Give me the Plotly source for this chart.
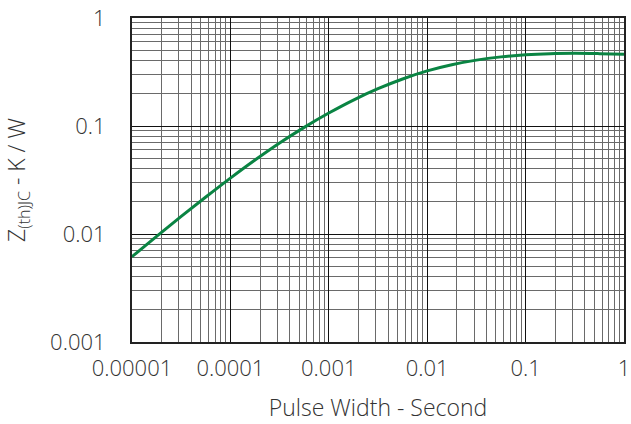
import plotly.graph_objects as go

pulse_width = [1e-5, 1.778e-5, 3.162e-5, 5.623e-5, 1e-4, 1.778e-4, 3.162e-4, 5.623e-4,
               1e-3, 1.778e-3, 3.162e-3, 5.623e-3, 1e-2, 1.778e-2, 3.162e-2, 5.623e-2,
               1e-1, 1.778e-1, 3.162e-1, 5.623e-1, 1.0]
zth_jc = [0.006166, 0.009495, 0.01454, 0.02200, 0.03292, 0.04842, 0.06962, 0.09716,
          0.1318, 0.1738, 0.2213, 0.2723, 0.3236, 0.3693, 0.4074, 0.4365,
          0.4571, 0.4677, 0.4704, 0.4677, 0.4624]

x_tickvals = [1e-5, 1e-4, 1e-3, 1e-2, 1e-1, 1]
x_ticktext = ["0.00001", "0.0001", "0.001", "0.01", "0.1", "1"]
y_tickvals = [0.001, 0.01, 0.1, 1]
y_ticktext = ["0.001", "0.01", "0.1", "1"]

font_family = "Open Sans, Liberation Sans, Arial, sans-serif"
text_color = "#333333"
tick_font = dict(family=font_family, size=22, color=text_color, weight=300)
title_font = dict(family=font_family, size=23, color=text_color, weight=300)

fig = go.Figure()
fig.add_trace(go.Scatter(
    x=pulse_width, y=zth_jc, mode="lines",
    line=dict(color="#0a8443", width=3, shape="spline", smoothing=1.0),
    showlegend=False, hoverinfo="skip",
))

axis_common = dict(
    type="log",
    automargin=False,
    showline=True, linecolor="#222222", linewidth=2, mirror=True,
    showgrid=True, gridcolor="#111111", gridwidth=1,
    zeroline=False,
    ticks="", ticklen=0,
    tickfont=tick_font,
    minor=dict(dtick="D1", showgrid=True, gridcolor="#6a6a6a", gridwidth=1, ticks=""),
)

fig.update_xaxes(
    range=[-5, 0], tickvals=x_tickvals, ticktext=x_ticktext,
    ticklabelstandoff=6,
    title=dict(text="Pulse Width - Second", font=title_font, standoff=18),
    **axis_common,
)
fig.update_yaxes(
    range=[-3, 0], tickvals=y_tickvals, ticktext=y_ticktext,
    ticklabelstandoff=20,
    title=dict(text="Z<sub>(th)JC</sub> - K / W", font=title_font, standoff=22),
    **axis_common,
)

fig.update_layout(
    width=631, height=424,
    margin=dict(l=132, r=7, t=18, b=82),
    paper_bgcolor="white", plot_bgcolor="white",
)

fig.write_html(
    "out.html",
    config={"displayModeBar": False},
    post_script="document.body.style.margin='0';document.body.style.overflow='hidden';",
)
